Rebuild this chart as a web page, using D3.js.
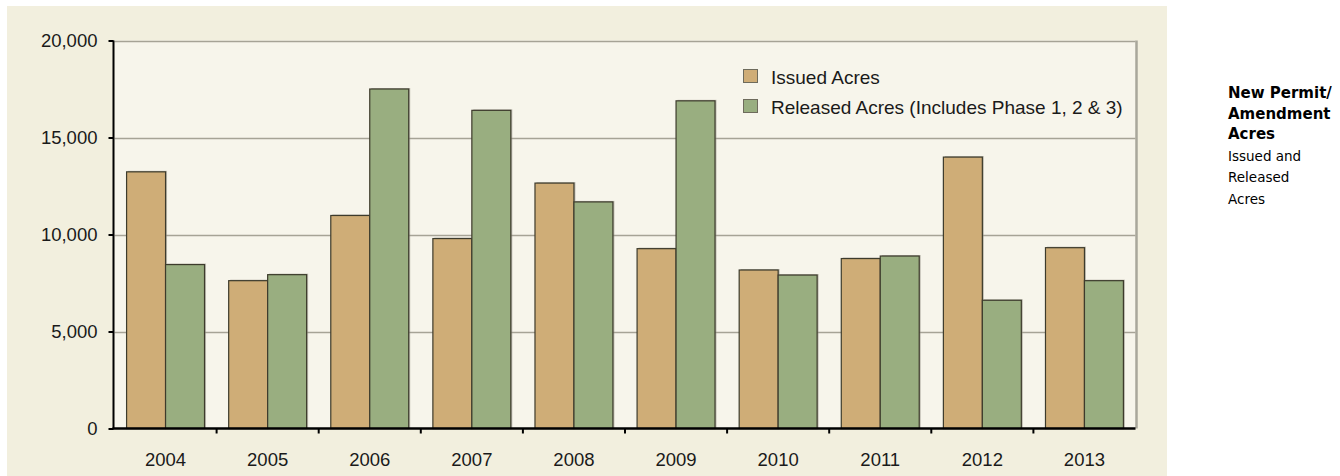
<!DOCTYPE html>
<html>
<head>
<meta charset="utf-8">
<script src="https://cdn.jsdelivr.net/npm/d3@7"></script>
<style>
  html, body { margin: 0; padding: 0; background: #ffffff; }
  svg { display: block; }
</style>
</head>
<body>
<svg id="chart" width="1340" height="476"></svg>
<script>
const years = ["2004","2005","2006","2007","2008","2009","2010","2011","2012","2013"];
const issuedAcres = [13230, 7620, 10980, 9790, 12650, 9270, 8170, 8760, 13990, 9320];
const releasedAcres = [8450, 7930, 17500, 16400, 11680, 16890, 7910, 8890, 6610, 7620];
const seriesNames = ["Issued Acres", "Released Acres (Includes Phase 1, 2 & 3)"];
const seriesColors = ["#cfad77", "#99ae80"];
const yTicks = [0, 5000, 10000, 15000, 20000];
const sideTitle = ["New Permit/", "Amendment", "Acres"];
const sideSub = ["Issued and", "Released", "Acres"];

const svg = d3.select("#chart");
const font = "'Liberation Sans', Arial, sans-serif";

// outer beige panel
svg.append("rect").attr("x", 7).attr("y", 6).attr("width", 1160).attr("height", 480)
  .attr("fill", "#f2efde");

const plot = { left: 114.5, right: 1135.5, top: 40.5, bottom: 428.5 };

// plot background
svg.append("rect").attr("x", plot.left).attr("y", plot.top)
  .attr("width", plot.right - plot.left).attr("height", plot.bottom - plot.top)
  .attr("fill", "#f7f5eb");

const x = d3.scaleBand().domain(years).range([plot.left, plot.right]).paddingInner(0).paddingOuter(0);
const x1 = d3.scaleBand().domain([0, 1]).range([0, x.bandwidth()]).paddingInner(0).paddingOuter(0.31);
const y = d3.scaleLinear().domain([0, 20000]).range([plot.bottom, plot.top]);

// gridlines
svg.append("g").selectAll("line").data(yTicks.filter(d => d > 0)).join("line")
  .attr("x1", plot.left).attr("x2", plot.right)
  .attr("y1", d => Math.round(y(d)) + 0.5).attr("y2", d => Math.round(y(d)) + 0.5)
  .attr("stroke", "#a6a396").attr("stroke-width", 1.5);

// right border
svg.append("line").attr("x1", plot.right + 1).attr("x2", plot.right + 1)
  .attr("y1", plot.top).attr("y2", plot.bottom)
  .attr("stroke", "#a9a79b").attr("stroke-width", 2.5);

// bars
const data = years.map((yr, i) => ({ year: yr, values: [issuedAcres[i], releasedAcres[i]] }));
const groups = svg.append("g").selectAll("g").data(data).join("g")
  .attr("transform", d => `translate(${x(d.year)},0)`);

// shadow
groups.selectAll("rect.shadow").data(d => d.values.map((v, k) => ({ v, k }))).join("rect")
  .attr("class", "shadow")
  .attr("x", d => x1(d.k) + 1.5)
  .attr("y", d => y(d.v) - 1)
  .attr("width", x1.bandwidth())
  .attr("height", d => y(0) - y(d.v) + 1)
  .attr("fill", "#8f8d82").attr("opacity", 0.55);

groups.selectAll("rect.bar").data(d => d.values.map((v, k) => ({ v, k }))).join("rect")
  .attr("class", "bar")
  .attr("x", d => x1(d.k))
  .attr("y", d => y(d.v))
  .attr("width", x1.bandwidth())
  .attr("height", d => y(0) - y(d.v))
  .attr("fill", d => seriesColors[d.k])
  .attr("stroke", "#3d3b2c").attr("stroke-width", 1.2);

// y axis
const yAxis = d3.axisLeft(y).tickValues(yTicks).tickSize(5).tickPadding(11)
  .tickFormat(d3.format(","));
const gy = svg.append("g").attr("transform", `translate(${plot.left - 1},0)`).call(yAxis);
gy.select(".domain").attr("stroke", "#000").attr("stroke-width", 2).attr("d", `M0,${plot.top}V${plot.bottom}`);
gy.selectAll(".tick line").attr("stroke", "#000").attr("stroke-width", 2);
gy.selectAll("text").attr("font-family", font).attr("font-size", 18.5).attr("fill", "#1a1a1a");

// x axis
const gx = svg.append("g").attr("transform", `translate(0,${plot.bottom})`);
gx.append("line").attr("x1", plot.left - 2).attr("x2", plot.right)
  .attr("y1", 0).attr("y2", 0).attr("stroke", "#000").attr("stroke-width", 2.5);
gx.selectAll("line.tk").data(years.slice(1)).join("line").attr("class", "tk")
  .attr("x1", d => x(d)).attr("x2", d => x(d))
  .attr("y1", 0).attr("y2", 5).attr("stroke", "#000").attr("stroke-width", 2);
gx.selectAll("text").data(years).join("text")
  .attr("x", d => x(d) + x.bandwidth() / 2).attr("y", 37)
  .attr("text-anchor", "middle")
  .attr("font-family", font).attr("font-size", 18.5).attr("fill", "#1a1a1a")
  .text(d => d);

// legend
const legend = svg.append("g").attr("transform", "translate(743,69)");
seriesNames.forEach((name, i) => {
  legend.append("rect").attr("x", 0.5).attr("y", i * 30 + 0.5).attr("width", 14).attr("height", 13)
    .attr("fill", seriesColors[i]).attr("stroke", "#6e6b5c").attr("stroke-width", 1);
  legend.append("text").attr("x", 28).attr("y", i * 30 + 14.5)
    .attr("font-family", font).attr("font-size", 19).attr("fill", "#1a1a1a")
    .text(name);
});

// side caption
const side = svg.append("text").attr("x", 1228).attr("y", 98)
  .attr("font-family", "'DejaVu Sans', Verdana, sans-serif").attr("fill", "#000");
sideTitle.forEach((t, i) => {
  side.append("tspan").attr("x", 1228).attr("dy", i === 0 ? 0 : 20.5)
    .attr("font-weight", "bold").attr("font-size", 15).text(t);
});
sideSub.forEach((t, i) => {
  side.append("tspan").attr("x", 1228).attr("dy", 21.5)
    .attr("font-weight", "normal").attr("font-size", 13.5).text(t);
});
</script>
</body>
</html>
